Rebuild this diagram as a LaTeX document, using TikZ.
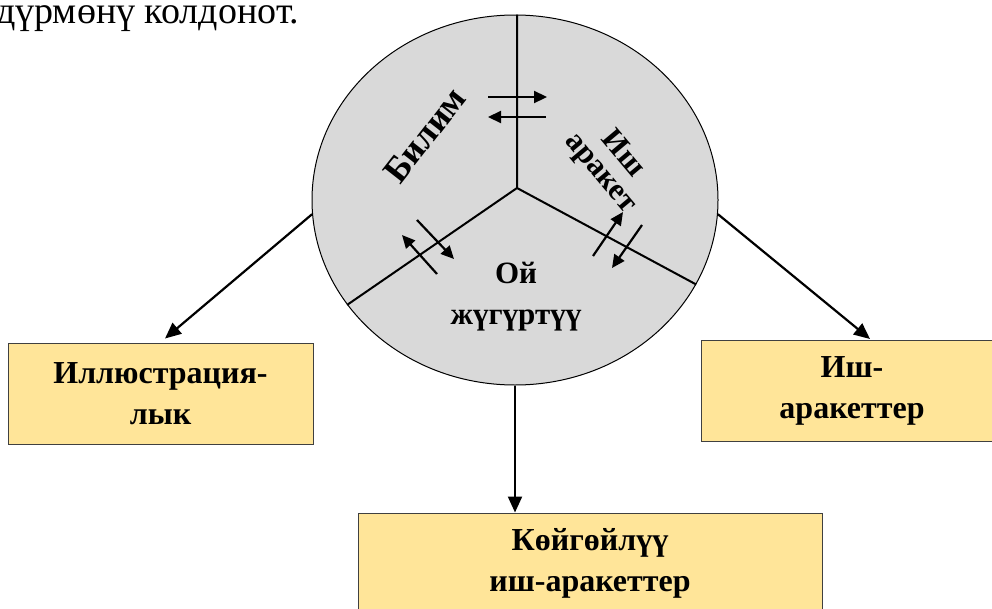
\documentclass[tikz,border=0pt]{standalone}
\usepackage{fontspec}
\setmainfont{Liberation Serif}
\usetikzlibrary{positioning, shapes.geometric, arrows.meta}
\definecolor{wheelgray}{RGB}{217,217,217}
\definecolor{notebox}{RGB}{255,229,153}

\begin{document}
\begin{tikzpicture}[x=1pt,y=-1pt,
   part/.style={font=\bfseries\fontsize{32}{41}\selectfont, align=center, inner sep=0pt},
   box/.style={draw=black!75, line width=1pt, fill=notebox, minimum height=101pt, part},
   link/.style={line width=2.2pt, -{Triangle[length=16pt,width=14pt]}},
   swap/.style={line width=2.2pt, -{Triangle[length=13pt,width=12pt]}}]
\useasboundingbox (0,0) rectangle (992,608);

\node[anchor=base west, inner sep=0pt, font=\fontsize{38}{42}\selectfont] (lead) at (-4,23) {дүрмөнү колдонот.};

% the wheel and its three parts
\node[ellipse, draw, line width=1pt, fill=wheelgray, minimum width=406pt, minimum height=370pt, inner sep=0pt] (wheel) at (515,200) {};
\coordinate (mid) at (517,188);
\draw[line width=2pt] (mid |- wheel.north) -- (mid) -- (wheel.212);
\draw[line width=2pt] (mid) -- (wheel.335.6);

\node[part, font=\bfseries\fontsize{36}{40}\selectfont, rotate=52] (bilim) at (425,135) {Билим};
\node[part, font=\bfseries\fontsize{31}{29}\selectfont, rotate=-50] (ishlbl) at (611,164) {Иш\\аракет};
\node[part, font=\bfseries\fontsize{31}{41}\selectfont] (oy) at (516,297) {Ой\\жүгүртүү};

\draw[swap] (488,97) -- (547,97);
\draw[swap] (546,117) -- (488,117);
\draw[swap] (417,220) -- (454,259);
\draw[swap] (437,274) -- (402,235);
\draw[swap] (593,256) -- (623,212);
\draw[swap] (642,225) -- (612,268);

% the three boxes
\node[box, minimum width=305pt] (illu) at (160.5,393.5) {Иллюстрация-\\лык};
\node[box, minimum width=302pt] (ishar) at (852,391) {Иш-\\аракеттер};
\node[box, minimum width=464pt] (koy) at (590,563.5) {Көйгөйлүү\\иш-аракеттер};

\draw[link] (wheel.184) -- ([xshift=4.5pt,yshift=4pt]illu.north);
\draw[link] (wheel.-4) -- ([xshift=18pt,yshift=1pt]ishar.north);
\draw[link] (wheel.south) -- (wheel.south |- koy.north);
\end{tikzpicture}
\end{document}
